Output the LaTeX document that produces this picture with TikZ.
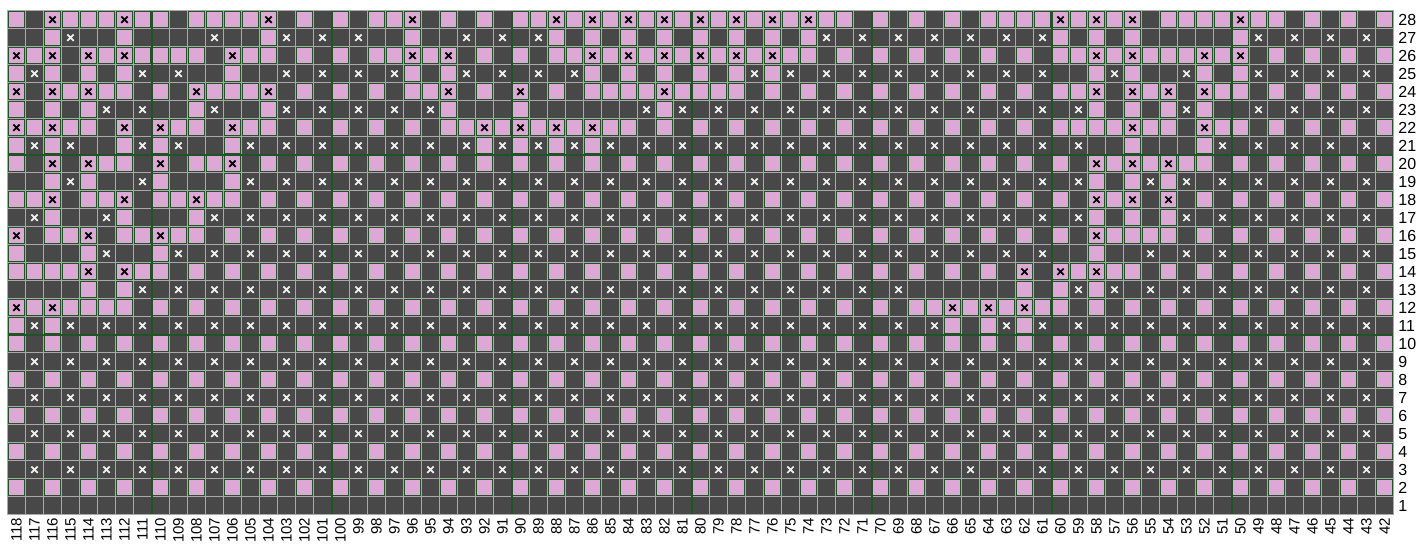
\documentclass[tikz,border=0pt]{standalone}
\usepackage{fontspec}
\setmainfont{Liberation Sans}
\definecolor{chartpink}{HTML}{DDA8D6}
\definecolor{chartdark}{HTML}{484848}
\definecolor{chartline}{HTML}{A9A9A9}
\definecolor{chartgreen}{HTML}{1F5424}

% one cell of the chart: #1 column index from the left, #2 row number
\newcommand\cellP[2]{%
  \filldraw[pinkcell] ({7.5+18*#1},{10.7+18*(28-#2)}) rectangle +(18,18);
  \draw[pinkrim] ({8.7+18*#1},{11.9+18*(28-#2)}) rectangle +(15.6,15.6);}
\newcommand\cellD[2]{%
  \filldraw[darkcell] ({7.5+18*#1},{10.7+18*(28-#2)}) rectangle +(18,18);}
\newcommand\cellp[2]{\cellP{#1}{#2}%
  \draw[blackx] ({16.5+18*#1},{19.7+18*(28-#2)}) +(-3.2,-3.2) -- +(3.2,3.2) +(-3.2,3.2) -- +(3.2,-3.2);}
\newcommand\celld[2]{\cellD{#1}{#2}%
  \draw[whitex] ({16.5+18*#1},{19.7+18*(28-#2)}) +(-3.2,-3.2) -- +(3.2,3.2) +(-3.2,3.2) -- +(3.2,-3.2);}

\makeatletter
\newcount\chartcol
\newcommand\chartrow[2]{%
  \chartcol=0
  \@tfor\celltype:=#2\do{%
    \edef\chartidx{\the\chartcol}%
    \csname cell\celltype\endcsname{\chartidx}{#1}%
    \advance\chartcol by 1\relax}}
\makeatother

\begin{document}
\begin{tikzpicture}[x=0.5pt,y=-0.5pt,
  pinkcell/.style={fill=chartpink,draw=chartline,line width=0.7pt},
  darkcell/.style={fill=chartdark,draw=chartline,line width=0.7pt},
  pinkrim/.style={draw=chartgreen,line width=0.45pt},
  blackx/.style={draw=black,line width=0.85pt},
  whitex/.style={draw=white!94!black,line width=0.85pt},
  groupline/.style={draw=chartgreen,line width=1pt},
  collabel/.style={rotate=90,anchor=east,inner sep=0pt,font=\fontsize{7.5}{8}\selectfont},
  rowlabel/.style={anchor=west,inner sep=0pt,font=\fontsize{8}{9}\selectfont}]
\useasboundingbox (0,0) rectangle (1425,544);

% rows 1-10: plain ground
\foreach \r in {1,...,10} {\foreach \i in {0,...,76} {\cellD{\i}{\r}}}
\foreach \r in {2,4,...,10} {\foreach \i in {0,2,...,76} {\cellP{\i}{\r}}}
\foreach \r in {3,5,7,9} {\foreach \i in {1,3,...,75} {\celld{\i}{\r}}}

% rows 11-28: P pink, p pink with cross, D dark, d dark with cross
\chartrow{11}{PdPdDdDdDdDdD dDdDdDdDdDdDd DdDdDdDdDdDdD dDdDdDdDdDdD dPDPdPdDdDdDd DdDdDdDdDdDdD}
\chartrow{12}{pPpPPPPDPDPDP DPDPDPDPDPDPD PDPDPDPDPDPDP DPDPDPDPDPDP PpPpPpPPDPDPD PDPDPDPDPDPDP}
\chartrow{13}{DDDDPDPdDdDdD dDdDdDdDdDdDd DdDdDdDdDdDdD dDdDdDdDdDdD DDDDDPDPdPdDd DdDdDdDdDdDdD}
\chartrow{14}{PPPPpDpPPDPDP DPDPDPDPDPDPD PDPDPDPDPDPDP DPDPDPDPDPDP DPDPDpDpPpPPD PDPDPDPDPDPDP}
\chartrow{15}{PDDDPdDDPdDdD dDdDdDdDdDdDd DdDdDdDdDdDdD dDdDdDdDdDdD dDdDdDdDDPDDd DdDdDdDdDdDdD}
\chartrow{16}{pDPPpDPPpPPDP DPDPDPDPDPDPD PDPDPDPDPDPDP DPDPDPDPDPDP DPDPDPDPDpPPP PDPDPDPDPDPDP}
\chartrow{17}{DdPDDdPDDDPdD dDdDdDdDdDdDd DdDdDdDdDdDdD dDdDdDdDdDdD dDdDdDdDdPDPD PdDdDdDdDdDdD}
\chartrow{18}{PPpDPPpDPPpPP DPDPDPDPDPDPD PDPDPDPDPDPDP DPDPDPDPDPDP DPDPDPDPDpPpD pDPDPDPDPDPDP}
\chartrow{19}{DDPdPDDdPDDDP dDdDdDdDdDdDd DdDdDdDdDdDdD dDdDdDdDdDdD dDdDdDdDdPDPd PdDdDdDdDdDdD}
\chartrow{20}{PDpDpPPDpDPPp DPDPDPDPDPDPD PDPDPDPDPDPDP DPDPDPDPDPDP DPDPDPDPDpPpP pPPDPDPDPDPDP}
\chartrow{21}{PdPdDDPdPdDDP dDdDdDdDdDdDd PdPdPdPdDdDdD dDdDdDdDdDdD dDdDdDdDdDDPD DDPdDdDdDdDdD}
\chartrow{22}{pPpPPDpDpPPDp PPDPDPDPDPDPP pPpPpPpPPDPDP DPDPDPDPDPDP DPDPDPDPPPPpP PDpPPDPDPDPDP}
\chartrow{23}{PDPDPdDdDDPdD DPdDdDdDdDdPD DDPDDDDDDdPdD dDdDdDdDdDdD dDdDdDdDdPDPD PdPDDdDdDdDdD}
\chartrow{24}{pDpPpPPDPDpPP PpDPDPDPDPPpD PDpDPDPPPPpPP PPDPDPDPDPDP DPDPDPDPPpDpP pDpPPDPDPDPDP}
\chartrow{25}{PdPDPDPdDdDDP DDdDdDdDdPDPd DdDdDdPDPDPDP DPdPdDdDdDdD dDdDdDdDDPdPD DdPDPdDdDdDdD}
\chartrow{26}{pPpDpPpPPPPDp PPDPDPDPPpPpD PDPDPPpPpPpPp PpPpPPDPDPDP DPDPDPDPPpPpP PPpPpDPDPDPDP}
\chartrow{27}{DDPdDDPDDDDdD DPdDdDdDDPDDd DdDdPDPDPDPDP DPDPDPdDdDdD dDdDdDdPDPDPD DDDDPdDdDdDdD}
\chartrow{28}{PDpPPPpPPDPPP PpDPDPDPPpDPD PDPPpPpPpPpPp PpPpPpPPDPDP DPDPPPPpPpPpD PPPPpPPDPDPDP}

% lines every ten stitches and ten rows
\foreach \k in {8,18,...,68} \draw[groupline] ({7.5+18*\k},10.7) -- ({7.5+18*\k},514.7);
\foreach \y in {154.7,334.7} \draw[groupline] (7.5,\y) -- (1393.5,\y);
\draw[chartline,line width=0.7pt] (7.5,10.7) rectangle (1393.5,514.7);

% numbering
\foreach \i in {0,...,76} {
  \pgfmathtruncatemacro\colno{118-\i}
  \node[collabel] (c\colno) at ({16.5+18*\i},517.5) {\colno};
}
\foreach \r in {1,...,28}
  \node[rowlabel] (r\r) at (1398,{19.7+18*(28-\r)}) {\r};
\end{tikzpicture}
\end{document}
